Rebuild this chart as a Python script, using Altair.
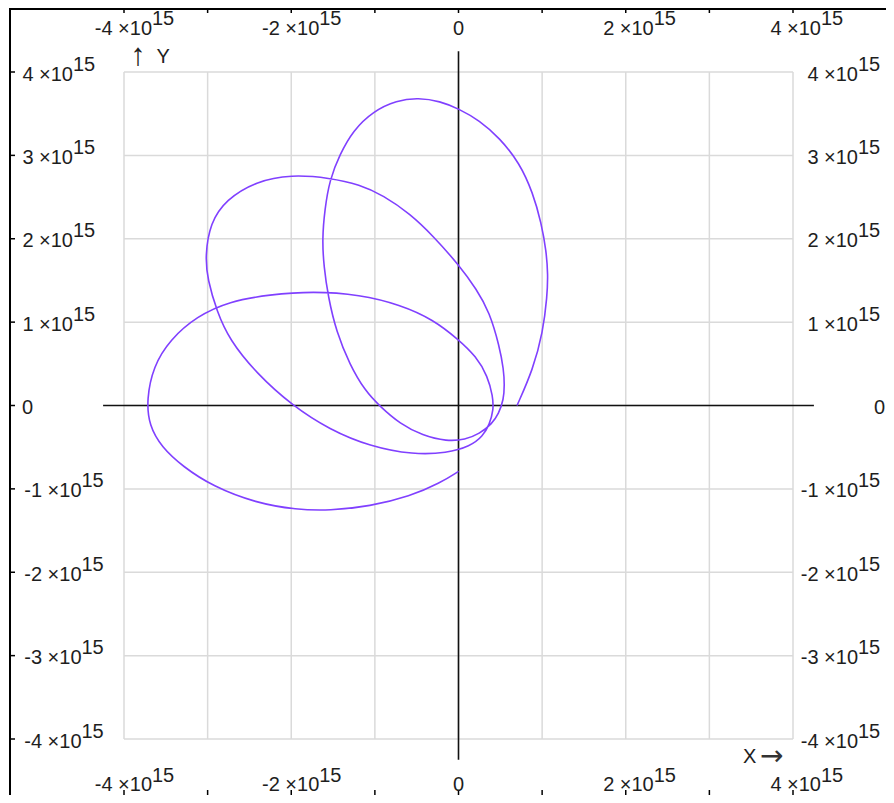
import altair as alt
import pandas as pd

E = 1e15  # values below are read in units of 1e15

# Orbit trace, in drawing order (units of 1e15)
orbit_x = [0.70, 0.89, 1.01, 1.06, 1.07, 1.05, 0.99, 0.89, 0.73, 0.49, 0.25, 0.00, -0.22, -0.48, -0.74,
           -1.02, -1.26, -1.42, -1.54, -1.60, -1.63, -1.61, -1.56, -1.46, -1.30, -1.12, -0.94, -0.70,
           -0.43, -0.14, 0.08, 0.25, 0.40, 0.48, 0.54, 0.55, 0.54, 0.49, 0.37, 0.22, 0.00, -0.30, -0.58,
           -0.90, -1.18, -1.54, -2.00, -2.42, -2.78, -2.97, -3.03, -3.00, -2.89, -2.74, -2.42, -1.99,
           -1.54, -1.06, -0.54, -0.14, 0.14, 0.29, 0.37, 0.42, 0.41, 0.35, 0.21, 0.00, -0.30, -0.70,
           -1.18, -1.74, -2.26, -2.74, -3.13, -3.45, -3.65, -3.73, -3.70, -3.55, -3.30, -2.94, -2.42,
           -1.94, -1.54, -1.06, -0.58, -0.22, 0.00]
orbit_y = [0.00, 0.43, 0.88, 1.31, 1.57, 1.85, 2.19, 2.55, 2.91, 3.21, 3.42, 3.56, 3.65, 3.69, 3.66,
           3.53, 3.30, 3.01, 2.71, 2.35, 1.99, 1.67, 1.31, 0.88, 0.49, 0.18, -0.01, -0.22,
           -0.36, -0.43, -0.41, -0.34, -0.22, -0.10, 0.07, 0.25, 0.43, 0.71, 1.12, 1.39, 1.69, 2.03, 2.30,
           2.52, 2.65, 2.73, 2.77, 2.69, 2.47, 2.19, 1.79, 1.51, 1.13, 0.79, 0.39, 0.00,
           -0.29, -0.49, -0.59, -0.57, -0.49, -0.37, -0.23, -0.05, 0.11, 0.35, 0.59, 0.79, 1.03, 1.21,
           1.33, 1.37, 1.33, 1.25, 1.07, 0.79, 0.47, 0.07, -0.24, -0.50, -0.73, -0.97, -1.17,
           -1.25, -1.26, -1.21, -1.09, -0.93, -0.79]

# Grid / tick values (units of 1e15)
grid_ticks = [-4, -3, -2, -1, 0, 1, 2, 3, 4]
x_label_vals = [-4, -2, 0, 2, 4]
x_label_base = ["-4 ×10", "-2 ×10", "0", "2 ×10", "4 ×10"]
x_label_exp = ["15", "15", "", "15", "15"]
y_label_vals = [-4, -3, -2, -1, 0, 1, 2, 3, 4]
y_label_base = ["-4 ×10", "-3 ×10", "-2 ×10", "-1 ×10", "0", "1 ×10", "2 ×10", "3 ×10", "4 ×10"]
y_label_exp = ["15", "15", "15", "15", "", "15", "15", "15", "15"]
axis_extent = 4.25   # length of the black zero axes (units of 1e15)
axis_letters = ["Y", "X"]
axis_arrows = ["↑", "→"]

orbit = pd.DataFrame({"x": [v * E for v in orbit_x], "y": [v * E for v in orbit_y],
                      "i": list(range(len(orbit_x)))})
grid = pd.DataFrame({"v": [t * E for t in grid_ticks]})
xl = pd.DataFrame({"v": [t * E for t in x_label_vals], "base": x_label_base, "exp": x_label_exp})
yl = pd.DataFrame({"v": [t * E for t in y_label_vals], "base": y_label_base, "exp": y_label_exp})
one = pd.DataFrame({"k": [0]})

W, H = 669, 667
PL, PT = 116, 64
TOTAL_W, TOTAL_H = 878, 787

sx = alt.Scale(domain=[-4 * E, 4 * E], nice=False, zero=False)
sy = alt.Scale(domain=[-4 * E, 4 * E], nice=False, zero=False)


def X(f):
    return alt.X(f, type="quantitative", scale=sx, axis=None)


def Y(f):
    return alt.Y(f, type="quantitative", scale=sy, axis=None)


def XD(v):
    return alt.X(datum=v, scale=sx, axis=None)


def YD(v):
    return alt.Y(datum=v, scale=sy, axis=None)


FONT = "Liberation Sans"
FS = 20
TXT = "#1e1e1e"

grid_v = alt.Chart(grid).mark_rule(color="#dadada", strokeWidth=1.5).encode(
    x=X("v"), y=YD(-4 * E), y2=alt.Y2(datum=4 * E))
grid_h = alt.Chart(grid).mark_rule(color="#dadada", strokeWidth=1.5).encode(
    y=Y("v"), x=XD(-4 * E), x2=alt.X2(datum=4 * E))

zero_h = alt.Chart(one).mark_rule(color="#111111", strokeWidth=1.6).encode(
    y=YD(0), x=XD(-axis_extent * E), x2=alt.X2(datum=axis_extent * E))
zero_v = alt.Chart(one).mark_rule(color="#111111", strokeWidth=1.6).encode(
    x=XD(0), y=YD(-axis_extent * E), y2=alt.Y2(datum=axis_extent * E))

# outer frame (left and top border lines) with tick marks
frame_left = alt.Chart(one).mark_rule(color="#000000", strokeWidth=2).encode(
    x=alt.value(2 - PL), y=alt.value(-PT), y2=alt.value(TOTAL_H - PT))
frame_top = alt.Chart(one).mark_rule(color="#000000", strokeWidth=2).encode(
    y=alt.value(1 - PT), x=alt.value(2 - PL), x2=alt.value(TOTAL_W - PL))
ticks_top = alt.Chart(grid).mark_rule(color="#000000", strokeWidth=1.5).encode(
    x=X("v"), y=alt.value(-PT), y2=alt.value(-PT + 5))
ticks_bottom = alt.Chart(grid).mark_rule(color="#000000", strokeWidth=1.5).encode(
    x=X("v"), y=alt.value(TOTAL_H - PT - 5), y2=alt.value(TOTAL_H - PT))
ticks_left = alt.Chart(grid).mark_rule(color="#000000", strokeWidth=1.5).encode(
    y=Y("v"), x=alt.value(2 - PL), x2=alt.value(7 - PL))

line = alt.Chart(orbit).mark_line(interpolate="basis", color="#8040ff", strokeWidth=1.6).encode(
    x=X("x"), y=Y("y"), order=alt.Order("i:Q"))


def tmark(**kw):
    base = dict(font=FONT, fontSize=FS, color=TXT, baseline="alphabetic")
    base.update(kw)
    return base


layers = [grid_v, grid_h, zero_h, zero_v, frame_left, frame_top, ticks_top, ticks_bottom, ticks_left, line]

# top and bottom x labels
for ybase, yexp in [(35 - 8 - PT, 25 - 8 - PT), (791 - 8 - PT, 782 - 8 - PT)]:
    nz = alt.Chart(xl).transform_filter("datum.v != 0")
    layers.append(nz.mark_text(**tmark(align="right", dx=28)).encode(
        x=X("v"), y=alt.value(ybase), text="base:N"))
    layers.append(nz.mark_text(**tmark(align="left", dx=28)).encode(
        x=X("v"), y=alt.value(yexp), text="exp:N"))
    layers.append(alt.Chart(xl).transform_filter("datum.v == 0").mark_text(**tmark(align="center")).encode(
        x=X("v"), y=alt.value(ybase), text="base:N"))

# left y labels
for cond, xpos in [("datum.v > 0", 73 - 8 - PL), ("datum.v < 0", 81.5 - 8 - PL)]:
    c = alt.Chart(yl).transform_filter(cond)
    layers.append(c.mark_text(**tmark(align="right", dy=8.5)).encode(
        y=Y("v"), x=alt.value(xpos), text="base:N"))
    layers.append(c.mark_text(**tmark(align="left", dy=-1.5)).encode(
        y=Y("v"), x=alt.value(xpos), text="exp:N"))
layers.append(alt.Chart(yl).transform_filter("datum.v == 0").mark_text(**tmark(align="left", dy=8)).encode(
    y=Y("v"), x=alt.value(22 - 8 - PL), text="base:N"))

# right y labels
rc = alt.Chart(yl).transform_filter("datum.v != 0")
layers.append(rc.mark_text(**tmark(align="right", dy=8.5)).encode(
    y=Y("v"), x=alt.value(858 - 8 - PL), text="base:N"))
layers.append(rc.mark_text(**tmark(align="left", dy=-1.5)).encode(
    y=Y("v"), x=alt.value(858 - 8 - PL), text="exp:N"))
layers.append(alt.Chart(yl).transform_filter("datum.v == 0").mark_text(**tmark(align="left", dy=8)).encode(
    y=Y("v"), x=alt.value(874 - 8 - PL), text="base:N"))

# axis names: arrow + letter
layers.append(alt.Chart(one).mark_text(**tmark(align="center", dx=14, dy=-7.5, fontSize=31)).encode(
    x=XD(-4 * E), y=YD(4 * E), text=alt.value(axis_arrows[0])))
layers.append(alt.Chart(one).mark_text(**tmark(align="left", dx=32.5, dy=-9.5)).encode(
    x=XD(-4 * E), y=YD(4 * E), text=alt.value(axis_letters[0])))
layers.append(alt.Chart(one).mark_text(**tmark(align="left", dx=-50, dy=23.5)).encode(
    x=XD(4 * E), y=YD(-4 * E), text=alt.value(axis_letters[1])))
layers.append(alt.Chart(one).mark_text(**tmark(align="left", dx=-33, dy=26, font="DejaVu Sans",
                                               fontSize=28, color="#333333")).encode(
    x=XD(4 * E), y=YD(-4 * E), text=alt.value(axis_arrows[1])))

chart = alt.layer(*layers).properties(
    width=W, height=H,
    padding={"left": PL, "top": PT, "right": TOTAL_W - PL - W, "bottom": TOTAL_H - PT - H},
    autosize=alt.AutoSizeParams(type="none"),
    background="white",
).configure_view(stroke=None)

chart.save("out.html", embed_options={"renderer": "svg", "actions": False})
